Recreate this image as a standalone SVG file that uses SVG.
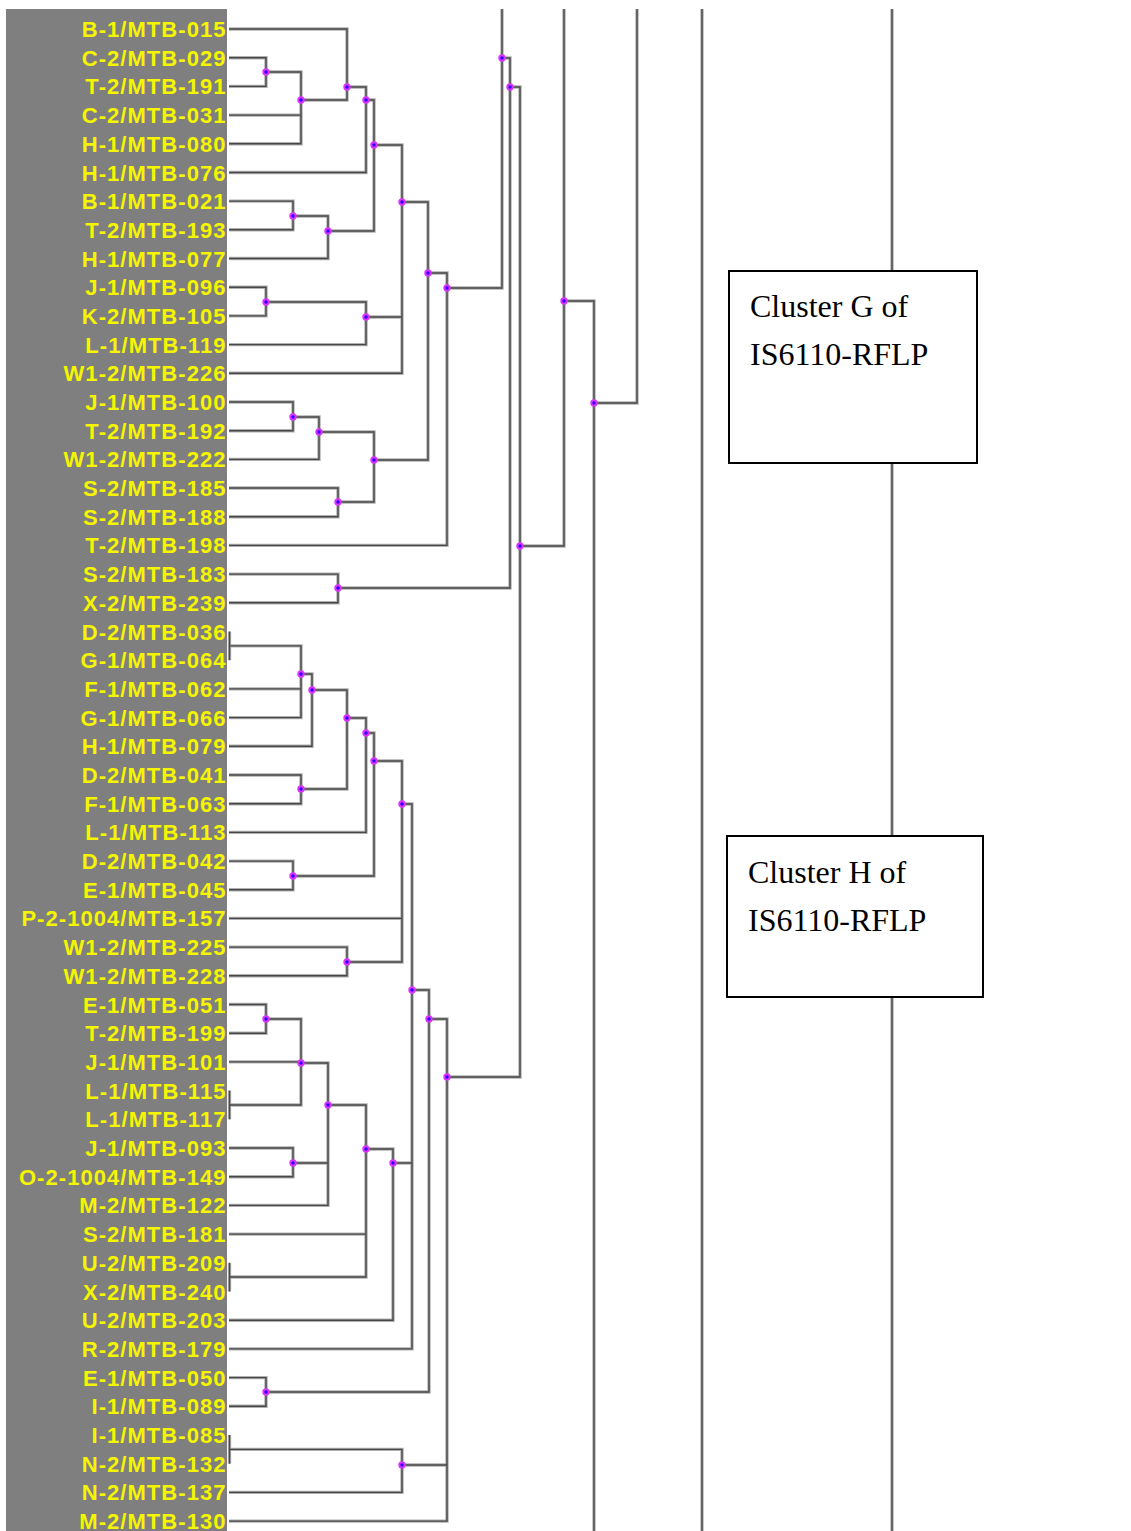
<svg xmlns="http://www.w3.org/2000/svg" xmlns:xlink="http://www.w3.org/1999/xlink" width="1131" height="1531" viewBox="0 0 1131 1531">
<style>
.panel{fill:#7f7f7f}
.lbl{font-family:"Liberation Sans",Arial,sans-serif;font-weight:bold;font-size:22px;fill:#f5f500;text-anchor:end;letter-spacing:1.05px}
.shadow{fill:none;stroke:#b0b0b0;stroke-width:3.4}
.core{fill:none;stroke:#474747;stroke-width:1.4}
.dot{fill:#3000ff;stroke:#dd33ff;stroke-width:2}
.box{fill:#ffffff;stroke:#000000;stroke-width:2}
.btxt{font-family:"Liberation Serif","Times New Roman",serif;font-size:32px;fill:#000000}
</style>
<defs>
<g id="tree">
<path d="M229,57.7 H266 V86.4 H229"/>
<path d="M266,72 H301 V143.8 H229 M229,115.1 H301"/>
<path d="M229,29 H347 V100 H301"/>
<path d="M347,87 H366 V172.5 H229"/>
<path d="M229,201.1 H293 V229.8 H229"/>
<path d="M293,216 H328 V258.5 H229"/>
<path d="M366,100 H374 V231 H328"/>
<path d="M229,287.2 H266 V315.9 H229"/>
<path d="M266,302 H366 V344.6 H229"/>
<path d="M374,145 H402 V373.3 H229 M366,317 H402"/>
<path d="M229,402 H293 V430.7 H229"/>
<path d="M293,417 H319 V459.4 H229"/>
<path d="M229,488 H338 V516.7 H229"/>
<path d="M319,432 H374 V502 H338"/>
<path d="M402,202 H428 V460 H374"/>
<path d="M428,273 H447 V545.4 H229"/>
<path d="M229,574.1 H338 V602.8 H229"/>
<path d="M502,9 V288 H447"/>
<path d="M502,58 H510 V588 H338"/>
<path d="M510,87 H520 V1077 H447"/>
<path d="M564,9 V546 H520"/>
<path d="M564,301 H594 V1531"/>
<path d="M637,9 V403 H594"/>
<path d="M702,9 V1531"/>
<path d="M892,9 V1531"/>
<path d="M229.5,631.5 V660.2"/>
<path d="M229,645.9 H301 V717.6 H229 M229,688.9 H301"/>
<path d="M301,674 H312 V746.3 H229"/>
<path d="M229,775 H301 V803.7 H229"/>
<path d="M312,690 H347 V789 H301"/>
<path d="M347,718 H366 V832.4 H229"/>
<path d="M229,861.1 H293 V889.8 H229"/>
<path d="M366,733 H374 V876 H293"/>
<path d="M229,947.1 H347 V975.8 H229"/>
<path d="M374,761 H402 V962 H347 M229,918.4 H402"/>
<path d="M229,1004.5 H266 V1033.2 H229"/>
<path d="M229.5,1090.6 V1119.3"/>
<path d="M266,1019 H301 V1105 H229 M229,1061.9 H301"/>
<path d="M229,1148 H293 V1176.7 H229"/>
<path d="M301,1063 H328 V1205.4 H229 M293,1163 H328"/>
<path d="M229.5,1262.8 V1291.5"/>
<path d="M328,1105 H366 V1277 H229 M229,1234.1 H366"/>
<path d="M366,1149 H393 V1320.2 H229"/>
<path d="M402,804 H412 V1348.9 H229 M393,1163 H412"/>
<path d="M229,1377.6 H266 V1406.3 H229"/>
<path d="M412,990 H429 V1392 H266"/>
<path d="M229.5,1435 V1463.7"/>
<path d="M229,1449.4 H402 V1492.4 H229"/>
<path d="M429,1019 H447 V1521.1 H229 M402,1465 H447"/>
</g>
</defs>
<rect x="0" y="0" width="1131" height="1531" fill="#ffffff"/>
<rect class="panel" x="6" y="9" width="221" height="1522"/>
<g id="connectors">
<use xlink:href="#tree" class="shadow"/>
<use xlink:href="#tree" class="core"/>
</g>
<g id="leaves">
<g id="leaf-B-1-MTB-015"><text class="lbl" x="226.5" y="37">B-1/MTB-015</text></g>
<g id="leaf-C-2-MTB-029"><text class="lbl" x="226.5" y="65.7">C-2/MTB-029</text></g>
<g id="leaf-T-2-MTB-191"><text class="lbl" x="226.5" y="94.4">T-2/MTB-191</text></g>
<g id="leaf-C-2-MTB-031"><text class="lbl" x="226.5" y="123.1">C-2/MTB-031</text></g>
<g id="leaf-H-1-MTB-080"><text class="lbl" x="226.5" y="151.8">H-1/MTB-080</text></g>
<g id="leaf-H-1-MTB-076"><text class="lbl" x="226.5" y="180.5">H-1/MTB-076</text></g>
<g id="leaf-B-1-MTB-021"><text class="lbl" x="226.5" y="209.1">B-1/MTB-021</text></g>
<g id="leaf-T-2-MTB-193"><text class="lbl" x="226.5" y="237.8">T-2/MTB-193</text></g>
<g id="leaf-H-1-MTB-077"><text class="lbl" x="226.5" y="266.5">H-1/MTB-077</text></g>
<g id="leaf-J-1-MTB-096"><text class="lbl" x="226.5" y="295.2">J-1/MTB-096</text></g>
<g id="leaf-K-2-MTB-105"><text class="lbl" x="226.5" y="323.9">K-2/MTB-105</text></g>
<g id="leaf-L-1-MTB-119"><text class="lbl" x="226.5" y="352.6">L-1/MTB-119</text></g>
<g id="leaf-W1-2-MTB-226"><text class="lbl" x="226.5" y="381.3">W1-2/MTB-226</text></g>
<g id="leaf-J-1-MTB-100"><text class="lbl" x="226.5" y="410">J-1/MTB-100</text></g>
<g id="leaf-T-2-MTB-192"><text class="lbl" x="226.5" y="438.7">T-2/MTB-192</text></g>
<g id="leaf-W1-2-MTB-222"><text class="lbl" x="226.5" y="467.4">W1-2/MTB-222</text></g>
<g id="leaf-S-2-MTB-185"><text class="lbl" x="226.5" y="496">S-2/MTB-185</text></g>
<g id="leaf-S-2-MTB-188"><text class="lbl" x="226.5" y="524.7">S-2/MTB-188</text></g>
<g id="leaf-T-2-MTB-198"><text class="lbl" x="226.5" y="553.4">T-2/MTB-198</text></g>
<g id="leaf-S-2-MTB-183"><text class="lbl" x="226.5" y="582.1">S-2/MTB-183</text></g>
<g id="leaf-X-2-MTB-239"><text class="lbl" x="226.5" y="610.8">X-2/MTB-239</text></g>
<g id="leaf-D-2-MTB-036"><text class="lbl" x="226.5" y="639.5">D-2/MTB-036</text></g>
<g id="leaf-G-1-MTB-064"><text class="lbl" x="226.5" y="668.2">G-1/MTB-064</text></g>
<g id="leaf-F-1-MTB-062"><text class="lbl" x="226.5" y="696.9">F-1/MTB-062</text></g>
<g id="leaf-G-1-MTB-066"><text class="lbl" x="226.5" y="725.6">G-1/MTB-066</text></g>
<g id="leaf-H-1-MTB-079"><text class="lbl" x="226.5" y="754.3">H-1/MTB-079</text></g>
<g id="leaf-D-2-MTB-041"><text class="lbl" x="226.5" y="783">D-2/MTB-041</text></g>
<g id="leaf-F-1-MTB-063"><text class="lbl" x="226.5" y="811.7">F-1/MTB-063</text></g>
<g id="leaf-L-1-MTB-113"><text class="lbl" x="226.5" y="840.4">L-1/MTB-113</text></g>
<g id="leaf-D-2-MTB-042"><text class="lbl" x="226.5" y="869.1">D-2/MTB-042</text></g>
<g id="leaf-E-1-MTB-045"><text class="lbl" x="226.5" y="897.8">E-1/MTB-045</text></g>
<g id="leaf-P-2-1004-MTB-157"><text class="lbl" x="226.5" y="926.4">P-2-1004/MTB-157</text></g>
<g id="leaf-W1-2-MTB-225"><text class="lbl" x="226.5" y="955.1">W1-2/MTB-225</text></g>
<g id="leaf-W1-2-MTB-228"><text class="lbl" x="226.5" y="983.8">W1-2/MTB-228</text></g>
<g id="leaf-E-1-MTB-051"><text class="lbl" x="226.5" y="1012.5">E-1/MTB-051</text></g>
<g id="leaf-T-2-MTB-199"><text class="lbl" x="226.5" y="1041.2">T-2/MTB-199</text></g>
<g id="leaf-J-1-MTB-101"><text class="lbl" x="226.5" y="1069.9">J-1/MTB-101</text></g>
<g id="leaf-L-1-MTB-115"><text class="lbl" x="226.5" y="1098.6">L-1/MTB-115</text></g>
<g id="leaf-L-1-MTB-117"><text class="lbl" x="226.5" y="1127.3">L-1/MTB-117</text></g>
<g id="leaf-J-1-MTB-093"><text class="lbl" x="226.5" y="1156">J-1/MTB-093</text></g>
<g id="leaf-O-2-1004-MTB-149"><text class="lbl" x="226.5" y="1184.7">O-2-1004/MTB-149</text></g>
<g id="leaf-M-2-MTB-122"><text class="lbl" x="226.5" y="1213.4">M-2/MTB-122</text></g>
<g id="leaf-S-2-MTB-181"><text class="lbl" x="226.5" y="1242.1">S-2/MTB-181</text></g>
<g id="leaf-U-2-MTB-209"><text class="lbl" x="226.5" y="1270.8">U-2/MTB-209</text></g>
<g id="leaf-X-2-MTB-240"><text class="lbl" x="226.5" y="1299.5">X-2/MTB-240</text></g>
<g id="leaf-U-2-MTB-203"><text class="lbl" x="226.5" y="1328.2">U-2/MTB-203</text></g>
<g id="leaf-R-2-MTB-179"><text class="lbl" x="226.5" y="1356.9">R-2/MTB-179</text></g>
<g id="leaf-E-1-MTB-050"><text class="lbl" x="226.5" y="1385.6">E-1/MTB-050</text></g>
<g id="leaf-I-1-MTB-089"><text class="lbl" x="226.5" y="1414.3">I-1/MTB-089</text></g>
<g id="leaf-I-1-MTB-085"><text class="lbl" x="226.5" y="1443">I-1/MTB-085</text></g>
<g id="leaf-N-2-MTB-132"><text class="lbl" x="226.5" y="1471.7">N-2/MTB-132</text></g>
<g id="leaf-N-2-MTB-137"><text class="lbl" x="226.5" y="1500.4">N-2/MTB-137</text></g>
<g id="leaf-M-2-MTB-130"><text class="lbl" x="226.5" y="1528.8">M-2/MTB-130</text></g>
</g>
<g id="internal-nodes">
<g id="n-A1"><circle class="dot" cx="266" cy="72" r="2.7"/></g>
<g id="n-A2"><circle class="dot" cx="301" cy="100" r="2.7"/></g>
<g id="n-A3"><circle class="dot" cx="347" cy="87" r="2.7"/></g>
<g id="n-A4"><circle class="dot" cx="366" cy="100" r="2.7"/></g>
<g id="n-B1"><circle class="dot" cx="293" cy="216" r="2.7"/></g>
<g id="n-B2"><circle class="dot" cx="328" cy="231" r="2.7"/></g>
<g id="n-A5"><circle class="dot" cx="374" cy="145" r="2.7"/></g>
<g id="n-C1"><circle class="dot" cx="266" cy="302" r="2.7"/></g>
<g id="n-C2"><circle class="dot" cx="366" cy="317" r="2.7"/></g>
<g id="n-A6"><circle class="dot" cx="402" cy="202" r="2.7"/></g>
<g id="n-D1"><circle class="dot" cx="293" cy="417" r="2.7"/></g>
<g id="n-D2"><circle class="dot" cx="319" cy="432" r="2.7"/></g>
<g id="n-D3"><circle class="dot" cx="338" cy="502" r="2.7"/></g>
<g id="n-D4"><circle class="dot" cx="374" cy="460" r="2.7"/></g>
<g id="n-A7"><circle class="dot" cx="428" cy="273" r="2.7"/></g>
<g id="n-A8"><circle class="dot" cx="447" cy="288" r="2.7"/></g>
<g id="n-E1"><circle class="dot" cx="338" cy="588" r="2.7"/></g>
<g id="n-T1"><circle class="dot" cx="502" cy="58" r="2.7"/></g>
<g id="n-T2"><circle class="dot" cx="510" cy="87" r="2.7"/></g>
<g id="n-T3"><circle class="dot" cx="520" cy="546" r="2.7"/></g>
<g id="n-T4"><circle class="dot" cx="564" cy="301" r="2.7"/></g>
<g id="n-T5"><circle class="dot" cx="594" cy="403" r="2.7"/></g>
<g id="n-F1"><circle class="dot" cx="301" cy="674" r="2.7"/></g>
<g id="n-F2"><circle class="dot" cx="312" cy="690" r="2.7"/></g>
<g id="n-F3"><circle class="dot" cx="301" cy="789" r="2.7"/></g>
<g id="n-F4"><circle class="dot" cx="347" cy="718" r="2.7"/></g>
<g id="n-F5"><circle class="dot" cx="366" cy="733" r="2.7"/></g>
<g id="n-F6"><circle class="dot" cx="293" cy="876" r="2.7"/></g>
<g id="n-F7"><circle class="dot" cx="374" cy="761" r="2.7"/></g>
<g id="n-F8"><circle class="dot" cx="347" cy="962" r="2.7"/></g>
<g id="n-F9"><circle class="dot" cx="402" cy="804" r="2.7"/></g>
<g id="n-G1"><circle class="dot" cx="266" cy="1019" r="2.7"/></g>
<g id="n-G2"><circle class="dot" cx="301" cy="1063" r="2.7"/></g>
<g id="n-G3"><circle class="dot" cx="293" cy="1163" r="2.7"/></g>
<g id="n-G4"><circle class="dot" cx="328" cy="1105" r="2.7"/></g>
<g id="n-G5"><circle class="dot" cx="366" cy="1149" r="2.7"/></g>
<g id="n-G6"><circle class="dot" cx="393" cy="1163" r="2.7"/></g>
<g id="n-H1"><circle class="dot" cx="412" cy="990" r="2.7"/></g>
<g id="n-H2"><circle class="dot" cx="266" cy="1392" r="2.7"/></g>
<g id="n-H3"><circle class="dot" cx="429" cy="1019" r="2.7"/></g>
<g id="n-H4"><circle class="dot" cx="402" cy="1465" r="2.7"/></g>
<g id="n-H5"><circle class="dot" cx="447" cy="1077" r="2.7"/></g>
</g>
<g id="cluster-G">
<rect class="box" x="729" y="271" width="248" height="192"/>
<text class="btxt" x="750" y="317">Cluster G of</text>
<text class="btxt" x="750" y="365">IS6110-RFLP</text>
</g>
<g id="cluster-H">
<rect class="box" x="727" y="836" width="256" height="161"/>
<text class="btxt" x="748" y="883">Cluster H of</text>
<text class="btxt" x="748" y="931">IS6110-RFLP</text>
</g>
</svg>
